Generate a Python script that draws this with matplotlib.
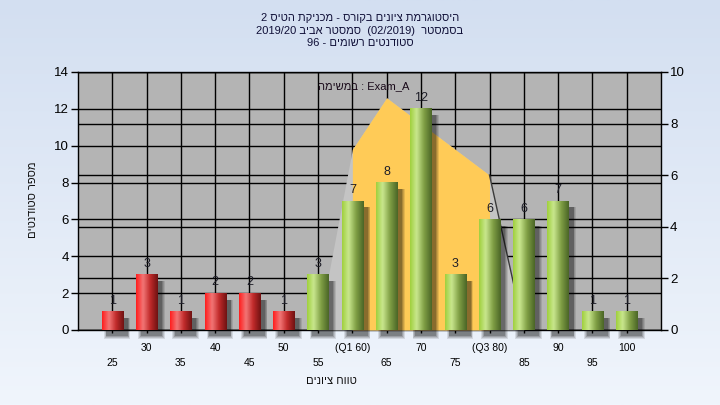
import numpy as np
import matplotlib
matplotlib.use("Agg")
import matplotlib.pyplot as plt
from matplotlib.colors import LinearSegmentedColormap
from matplotlib.patches import Rectangle

plt.rcParams['font.family'] = ['Liberation Sans', 'DejaVu Sans']

# ---------------- data ----------------
grades = [25, 30, 35, 40, 45, 50, 55, 60, 65, 70, 75, 80, 85, 90, 95, 100]
tick_labels = ['25', '30', '35', '40', '45', '50', '55', '(Q1 60)', '65', '70',
               '75', '(Q3 80)', '85', '90', '95', '100']
counts = [1, 3, 1, 2, 2, 1, 3, 7, 8, 12, 3, 6, 6, 7, 1, 1]
fail_limit = 55          # grades below this are drawn red
curve_grades = [55, 60, 65, 70, 75, 80, 85]
curve_values = [0, 7, 9, 8, 7, 6, 0]   # right axis scale
q1_grade, q3_grade = 60, 80

title_lines = ["היסטוגרמת ציונים בקורס - מכניקת הטיס 2",
               "בסמסטר  (02/2019)  סמסטר אביב 2019/20",
               "סטודנטים רשומים - 96"]
legend_text = "Exam_A : במשימה"
ylabel_text = "מספר סטודנטים"
xlabel_text = "טווח ציונים"


def rtl(s):
    """Convert a logical right-to-left string to visual (left-to-right) order."""
    out = []
    for tok in reversed(s.split(' ')):
        if any('\u0590' <= c <= '\u05ff' for c in tok):
            out.append(tok[::-1])
        else:
            out.append(tok)
    return ' '.join(out)


# ---------------- figure ----------------
W, H = 720, 405
fig = plt.figure(figsize=(W / 100, H / 100), dpi=100)

# background gradient
bg = fig.add_axes([0, 0, 1, 1], zorder=-10)
top_c = np.array([0xd3, 0xdf, 0xf1]) / 255
bot_c = np.array([0xf0, 0xf5, 0xfc]) / 255
t = np.linspace(0, 1, 256)[:, None, None]
grad = top_c * (1 - t) + bot_c * t
bg.imshow(grad, aspect='auto', extent=[0, 1, 0, 1])
bg.axis('off')

rect = [78 / W, 1 - 330 / H, (661 - 78) / W, (330 - 72) / H]
ax0 = fig.add_axes(rect)
ax0.set_facecolor('#b4b4b4')
x = np.arange(len(grades))
ax0.set_xlim(-1, len(grades))
ax0.set_ylim(0, 14)
ax0.set_yticks(np.arange(0, 15, 2))
ax0.tick_params(axis='y', labelsize=9.5, length=5, width=1, pad=1.5, direction='out')
ax0.set_axisbelow(True)
ax0.grid(True, axis='y', color='black', lw=1.0)

odd = x[1::2]
even = x[0::2]
ax0.set_xticks(odd)
ax0.set_xticklabels([tick_labels[i] for i in odd])
ax0.set_xticks(even, minor=True)
ax0.set_xticklabels([tick_labels[i] for i in even], minor=True)
ax0.tick_params(axis='x', which='major', labelsize=7.5, direction='inout', length=5,
                width=1, pad=7)
ax0.tick_params(axis='x', which='minor', labelsize=7.5, direction='inout', length=5,
                width=1, pad=17.5)
ax0.grid(True, axis='x', which='both', color='black', lw=1.0)
for s in ax0.spines.values():
    s.set_color('black')
    s.set_linewidth(1.0)

# right axis with curve area
ax1 = ax0.twinx()
ax1.set_ylim(0, 10)
ax1.set_yticks(np.arange(0, 11, 2))
ax1.tick_params(axis='y', labelsize=9.5, length=5, width=1, pad=1.5, direction='out')
ax1.grid(True, axis='y', color='black', lw=1.0, zorder=0)
cx = np.array([grades.index(g) for g in curve_grades])
cv = np.array(curve_values)
ax1.fill_between(cx, 0, cv, color='#c4c4c4', lw=0, zorder=2)
inside = (np.array(curve_grades) >= q1_grade) & (np.array(curve_grades) <= q3_grade)
ax1.fill_between(cx, 0, cv, where=inside, color='#ffcb57', lw=0, zorder=3)
ax1.plot(cx[-2:], cv[-2:], color='#3a3a3a', lw=1.0, zorder=4)
for s in ax1.spines.values():
    s.set_visible(False)

# bars on top, left scale
ax2 = ax0.twinx()
ax2.set_ylim(0, 14)
ax2.yaxis.set_visible(False)
for s in ax2.spines.values():
    s.set_visible(False)

bar_w = 0.62
bars = ax2.bar(x, counts, width=bar_w, color='none', edgecolor='none', zorder=5)

red_cmap = LinearSegmentedColormap.from_list(
    'r', [(0, '#ff1c1c'), (0.32, '#f27676'), (0.65, '#c02a2a'), (1, '#6e1212')])
green_cmap = LinearSegmentedColormap.from_list(
    'g', [(0, '#9fd03c'), (0.3, '#c9e78e'), (0.65, '#7f9e44'), (1, '#4a6526')])
gvals = np.linspace(0, 1, 128).reshape(1, -1)

for g, b in zip(grades, bars):
    bx, bwid, bh = b.get_x(), b.get_width(), b.get_height()
    # soft shadow
    for k, a in enumerate([0.10, 0.12, 0.15, 0.2]):
        grow = 0.05 * (3 - k)
        ax2.add_patch(Rectangle((bx + 0.14 - grow / 2, -0.35 - grow),
                                bwid + grow, bh + grow,
                                facecolor='black', alpha=a, lw=0, zorder=4,
                                clip_on=False))
    cmap = red_cmap if g < fail_limit else green_cmap
    ax2.imshow(gvals, cmap=cmap, aspect='auto', extent=[bx, bx + bwid, 0, bh],
               zorder=6, interpolation='bicubic')
    ax2.annotate(str(int(bh)), (bx + bwid / 2, bh), xytext=(0, 3.5),
                 textcoords='offset points', ha='center', va='bottom',
                 fontsize=9, color='#1e1e28', zorder=7)

ax2.set_xlim(-1, len(grades))
ax2.set_ylim(0, 14)

# texts
ys = [18, 30.5, 43]
for line, yy in zip(title_lines, ys):
    fig.text(360 / W, 1 - yy / H, rtl(line), ha='center', va='center',
             fontsize=8, color='#101038')
ax2.text(0.49, 0.945, rtl(legend_text), transform=ax2.transAxes, ha='center',
         va='center', fontsize=8, color='#1a0a1a', zorder=8)
fig.text(33 / W, 1 - 200 / H, rtl(ylabel_text), rotation=90, ha='center',
         va='center', fontsize=8, color='#101010')
fig.text(331 / W, 1 - 381 / H, rtl(xlabel_text), ha='center', va='center',
         fontsize=8, color='#101010')

fig.savefig('out.png', dpi=100)
